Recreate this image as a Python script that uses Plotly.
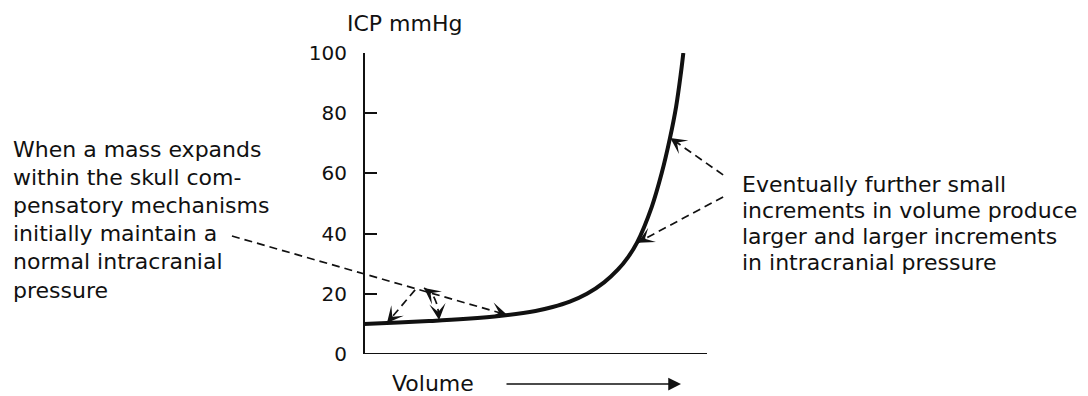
import math
import plotly.graph_objects as go

# ---------------- data ----------------
volume = [0, 10, 20, 30, 40, 50, 55, 60, 65, 70, 74, 77, 79.6, 83.9, 86.8, 89.2, 91.0, 92.4, 93.1]
icp = [10, 10.5, 11, 11.7, 12.7, 14.3, 15.6, 17.4, 20.0, 23.8, 28.0, 32.2, 37.0, 48.9, 60.1, 71.7, 82.2, 93.4, 100]

y_ticks = [0, 20, 40, 60, 80, 100]
y_tick_labels = ["0", "20", "40", "60", "80", "100"]
y_title = "ICP mmHg"
x_title = "Volume"

left_note = ["When a mass expands", "within the skull com-", "pensatory mechanisms",
             "initially maintain a", "normal intracranial", "pressure"]
right_note = ["Eventually further small", "increments in volume produce",
              "larger and larger increments", "in intracranial pressure"]

# leader lines (in axis units: volume, mmHg)
left_leader_x = [-38.5, 41.7]
left_leader_y = [39.2, 13.0]
branch_x = [14.9, 6.7]
branch_y = [21.3, 10.3]
arc_x = [17.5, 19.8, 21.0, 21.6, 21.9]
arc_y = [21.9, 19.9, 17.3, 14.6, 11.3]
right_upper_x = [104.7, 89.3]
right_upper_y = [59.5, 71.8]
right_lower_x = [104.7, 79.8]
right_lower_y = [52.2, 37.0]

# ---------------- layout geometry ----------------
W, H = 1088, 396
AX_LEFT_PX, AX_RIGHT_PX = 364, 707          # where volume 0 and 100 fall
TOP_PX, BOTTOM_PX = 53, 354                 # where ICP 100 and 0 fall
px_per_x = (AX_RIGHT_PX - AX_LEFT_PX) / 100.0
px_per_y = (BOTTOM_PX - TOP_PX) / 100.0
x_range = [-AX_LEFT_PX / px_per_x, (W - AX_LEFT_PX) / px_per_x]

def xpx(px):
    return (px - AX_LEFT_PX) / px_per_x

def ypx(py):
    return (BOTTOM_PX - py) / px_per_y

def ypaper(py):
    return (BOTTOM_PX - py) / (BOTTOM_PX - TOP_PX)

FONT = "DejaVu Sans"
INK = "#111111"
DASH = "8px,5px"

fig = go.Figure()

# x axis line
fig.add_trace(go.Scatter(x=[0, 100], y=[0, 0], mode="lines", cliponaxis=False,
                         line=dict(color=INK, width=2), hoverinfo="skip", showlegend=False))
# pressure-volume curve
fig.add_trace(go.Scatter(x=volume, y=icp, mode="lines", cliponaxis=False,
                         line=dict(color=INK, width=4, shape="spline", smoothing=1.0),
                         showlegend=False))
# dashed leaders
for xs, ys, shape in [(left_leader_x, left_leader_y, "linear"),
                      (branch_x, branch_y, "linear"),
                      (arc_x, arc_y, "spline"),
                      (right_upper_x, right_upper_y, "linear"),
                      (right_lower_x, right_lower_y, "linear")]:
    fig.add_trace(go.Scatter(x=xs, y=ys, mode="lines", cliponaxis=False,
                             line=dict(color=INK, width=1.7, dash=DASH, shape=shape),
                             hoverinfo="skip", showlegend=False))

annotations = []

def head(xt, yt, xf, yf, back=9):
    dx = (xf - xt) * px_per_x
    dy = -(yf - yt) * px_per_y
    L = math.hypot(dx, dy)
    annotations.append(dict(x=xt, y=yt, xref="x", yref="y", text="", showarrow=True,
                            ax=dx / L * back, ay=dy / L * back,
                            arrowhead=3, arrowsize=1.7, arrowwidth=1.6, arrowcolor=INK,
                            standoff=0, startstandoff=0))

head(left_leader_x[1], left_leader_y[1], left_leader_x[0], left_leader_y[0])
head(branch_x[1], branch_y[1], branch_x[0], branch_y[0])
head(arc_x[0], arc_y[0], arc_x[1], arc_y[1])
head(arc_x[-1], arc_y[-1], arc_x[-2], arc_y[-2])
head(right_upper_x[1], right_upper_y[1], right_upper_x[0], right_upper_y[0])
head(right_lower_x[1], right_lower_y[1], right_lower_x[0], right_lower_y[0])

txt_font = dict(family=FONT, size=22, color=INK)

# axis title
annotations.append(dict(x=xpx(345), y=ypaper(24), xref="x", yref="paper", text=y_title,
                        showarrow=False, xanchor="left", yanchor="middle", font=txt_font))
# volume label and arrow
annotations.append(dict(x=xpx(390), y=ypaper(383), xref="x", yref="paper", text=x_title,
                        showarrow=False, xanchor="left", yanchor="middle", font=txt_font))
annotations.append(dict(x=xpx(681), y=ypaper(384), xref="x", yref="paper", text="",
                        showarrow=True, ax=-176, ay=0, arrowhead=2, arrowsize=1.7,
                        arrowwidth=1.5, arrowcolor=INK, standoff=0))

# left note, one line each
for i, line in enumerate(left_note):
    annotations.append(dict(x=xpx(11), y=ypx(149 + i * 28.2), xref="x", yref="y", text=line,
                            showarrow=False, xanchor="left", yanchor="middle", font=txt_font))
# right note
for i, line in enumerate(right_note):
    annotations.append(dict(x=xpx(740), y=ypx(184 + i * 26), xref="x", yref="y", text=line,
                            showarrow=False, xanchor="left", yanchor="middle", font=txt_font))

fig.update_layout(
    template="none",
    width=W, height=H, autosize=False,
    margin=dict(l=0, r=0, t=TOP_PX, b=H - BOTTOM_PX, pad=0),
    paper_bgcolor="white", plot_bgcolor="white",
    showlegend=False,
    xaxis=dict(range=x_range, visible=False, fixedrange=True, domain=[0, 1]),
    yaxis=dict(range=[0, 100], anchor="free", position=AX_LEFT_PX / W,
               showline=True, linewidth=2, linecolor=INK, mirror=False,
               ticks="inside", ticklen=12, tickwidth=2, tickcolor=INK,
               tickvals=y_ticks, ticktext=y_tick_labels,
               tickfont=dict(family=FONT, size=20, color=INK),
               ticklabelstandoff=12,
               showgrid=False, zeroline=False, automargin=False, fixedrange=True),
    annotations=annotations,
)

fig.write_html("out.html", config={"displayModeBar": False},
               post_script="document.body.style.margin='0';document.body.style.padding='0';")
